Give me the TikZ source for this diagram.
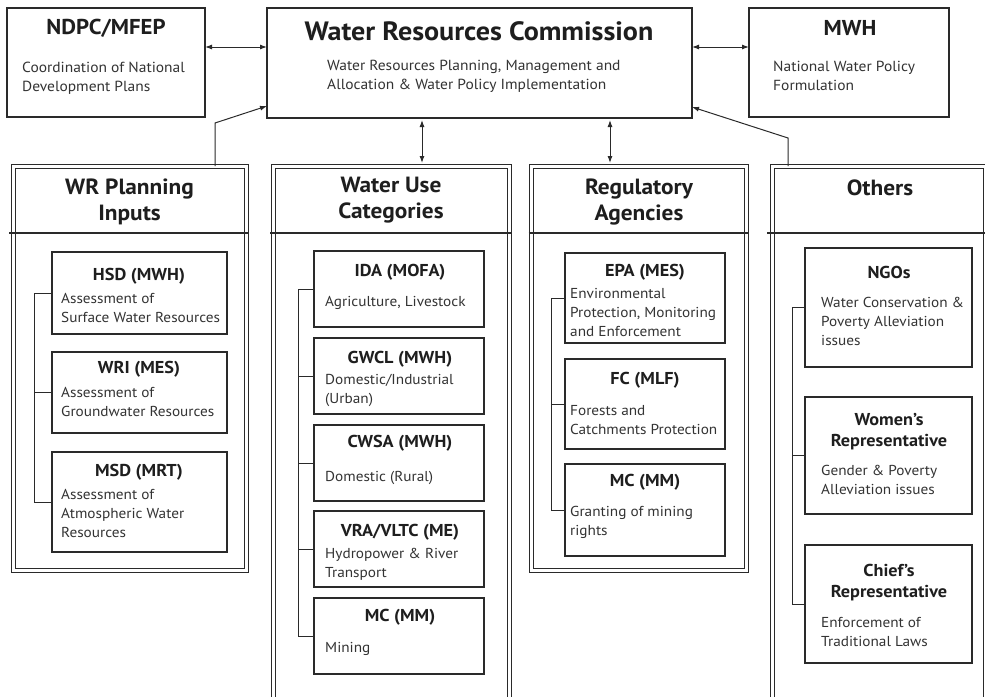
\documentclass[tikz,border=0pt]{standalone}
\usepackage{fontspec}
\setmainfont{PT Sans}[FakeStretch=1.06]
\usetikzlibrary{arrows.meta,calc}
\definecolor{linec}{HTML}{2A2A2A}
\definecolor{textc}{HTML}{1E1E1E}
\definecolor{bodyc}{HTML}{333333}
\tikzset{
  topbox/.style={draw=linec,line width=1.2pt,inner sep=0pt,outer sep=0pt,anchor=north west,fill=white},
  subbox/.style={draw=linec,line width=1.1pt,inner sep=0pt,outer sep=0pt,anchor=north west},
  colframe/.style={draw=linec,line width=1pt,double=white,double distance=3pt,inner sep=0pt,outer sep=0pt,anchor=north west},
  sepline/.style={draw=linec,line width=1.6pt},
  bigtitle/.style={font=\bfseries\fontsize{26.5}{30}\selectfont,text=textc,inner sep=0pt},
  toptitle/.style={font=\bfseries\fontsize{21.5}{25}\selectfont,text=textc,inner sep=0pt},
  topbody/.style={font=\fontsize{14.6}{19}\selectfont,text=bodyc,inner sep=0pt,anchor=west,align=left},
  colhead/.style={font=\bfseries\fontsize{22}{26}\selectfont,text=textc,inner sep=0pt,align=center},
  subtitle/.style={font=\bfseries\fontsize{17.2}{21}\selectfont,text=textc,inner sep=0pt,align=center},
  subbody/.style={font=\fontsize{14.4}{19}\selectfont,text=bodyc,inner sep=0pt,anchor=west,align=left},
  conn/.style={draw=linec,line width=1pt},
  biarrow/.style={conn,{Latex[length=7pt,width=5pt]}-{Latex[length=7pt,width=5pt]}},
  onearrow/.style={conn,-{Latex[length=7pt,width=5pt]}},
  brk/.style={draw=linec,line width=1pt}
}
\begin{document}
\begin{tikzpicture}[x=1pt,y=-1pt]
\useasboundingbox[fill=white] (0,0) rectangle (985,696);

% ---------- top boxes ----------
\node[topbox,minimum width=198pt,minimum height=109pt] (ndpc) at (7,8) {};
\node[topbox,minimum width=425pt,minimum height=110pt] (wrc) at (267,8) {};
\node[topbox,minimum width=200pt,minimum height=109pt] (mwh) at (749,8) {};

\node[toptitle] (ndpct) at (106,28) {NDPC/MFEP};
\node[topbody] (ndpcb) at (22,78) {Coordination of National\\Development Plans};

\node[bigtitle] (wrct) at (479,31) {Water Resources Commission};
\node[topbody] (wrcb) at (327,76) {Water Resources Planning, Management and\\Allocation \& Water Policy Implementation};

\node[toptitle] (mwht) at (850,28) {MWH};
\node[topbody] (mwhb) at (773,76) {National Water Policy\\Formulation};

% ---------- column frames ----------
\node[colframe,minimum width=233pt,minimum height=404pt] (c1) at (13,166) {};
\node[colframe,minimum width=236pt,minimum height=534pt] (c2) at (273,166) {};
\node[colframe,minimum width=214.5pt,minimum height=404.5pt] (c3) at (531.5,166) {};
\node[colframe,minimum width=213pt,minimum height=534pt] (c4) at (772,166) {};

\coordinate (sy) at (0,233);
\draw[sepline] ([xshift=-4pt]c1.west |- sy) -- ([xshift=2pt]c1.east |- sy);
\draw[sepline] ([xshift=-3pt]c2.west |- sy) -- ([xshift=2pt]c2.east |- sy);
\draw[sepline] ([xshift=-3pt]c3.west |- sy) -- ([xshift=2pt]c3.east |- sy);
\draw[sepline] ([xshift=-5pt]c4.west |- sy) -- ([xshift=2pt]c4.east |- sy);

\node[colhead] (h1) at (129.5,201.5) {WR Planning\\Inputs};
\node[colhead] (h2) at (391,200.5) {Water Use\\Categories};
\node[colhead] (h3) at (639,202) {Regulatory\\Agencies};
\node[colhead] (h4) at (880,188) {Others};

% ---------- column 1 ----------
\node[subbox,minimum width=175pt,minimum height=82pt] (b11) at (52,252) {};
\node[subbox,minimum width=175pt,minimum height=81pt] (b12) at (52,352) {};
\node[subbox,minimum width=175pt,minimum height=100pt] (b13) at (52,452) {};
\node[subtitle] (t11) at (139,276) {HSD (MWH)};
\node[subbody] (d11) at (61,307.5) {Assessment of\\Surface Water Resources};
\node[subtitle] (t12) at (139,369) {WRI (MES)};
\node[subbody] (d12) at (61,402) {Assessment of\\Groundwater Resources};
\node[subtitle] (t13) at (139,472) {MSD (MRT)};
\node[subbody] (d13) at (61,513) {Assessment of\\Atmospheric Water\\Resources};
\draw[brk] (b11.west) -- ++(-18,0) |- (b13.west);
\draw[brk] (b12.west) -- ++(-18,0);

% ---------- column 2 ----------
\node[subbox,minimum width=170pt,minimum height=76pt] (b21) at (314,251) {};
\node[subbox,minimum width=170pt,minimum height=76pt] (b22) at (314,338) {};
\node[subbox,minimum width=170pt,minimum height=76pt] (b23) at (314,425) {};
\node[subbox,minimum width=170pt,minimum height=76pt] (b24) at (314,511) {};
\node[subbox,minimum width=170pt,minimum height=76pt] (b25) at (314,598) {};
\node[subtitle] (t21) at (400,272) {IDA (MOFA)};
\node[subbody] (d21) at (325,303) {Agriculture, Livestock};
\node[subtitle] (t22) at (400,359) {GWCL (MWH)};
\node[subbody] (d22) at (325,390.5) {Domestic/Industrial\\(Urban)};
\node[subtitle] (t23) at (400,443) {CWSA (MWH)};
\node[subbody] (d23) at (325,478) {Domestic (Rural)};
\node[subtitle] (t24) at (400,532) {VRA/VLTC (ME)};
\node[subbody] (d24) at (325,564) {Hydropower \& River\\Transport};
\node[subtitle] (t25) at (400,617) {MC (MM)};
\node[subbody] (d25) at (325,649) {Mining};
\draw[brk] (b21.west) -- ++(-16,0) |- (b25.west);
\draw[brk] (b22.west) -- ++(-16,0);
\draw[brk] (b23.west) -- ++(-16,0);
\draw[brk] (b24.west) -- ++(-16,0);

% ---------- column 3 ----------
\node[subbox,minimum width=160pt,minimum height=90pt] (b31) at (565,253) {};
\node[subbox,minimum width=160pt,minimum height=90pt] (b32) at (565,359) {};
\node[subbox,minimum width=160pt,minimum height=92pt] (b33) at (565,464) {};
\node[subtitle] (t31) at (645,272) {EPA (MES)};
\node[subbody] (d31) at (570,312.5) {Environmental\\Protection, Monitoring\\and Enforcement};
\node[subtitle] (t32) at (645,380) {FC (MLF)};
\node[subbody] (d32) at (570,420.5) {Forests and\\Catchments Protection};
\node[subtitle] (t33) at (645,482) {MC (MM)};
\node[subbody] (d33) at (570,522) {Granting of mining\\rights};
\draw[brk] (b31.west) -- ++(-14,0) |- (b33.west);
\draw[brk] (b32.west) -- ++(-14,0);

% ---------- column 4 ----------
\node[subbox,minimum width=167pt,minimum height=119pt] (b41) at (805,248) {};
\node[subbox,minimum width=167pt,minimum height=117pt] (b42) at (805,397) {};
\node[subbox,minimum width=167pt,minimum height=118pt] (b43) at (805,545) {};
\node[subtitle] (t41) at (889,272) {NGOs};
\node[subbody] (d41) at (821,321) {Water Conservation \&\\Poverty Alleviation\\issues};
\node[subtitle] (t42) at (889,431.5) {Women's\\Representative};
\node[subbody] (d42) at (821,479.5) {Gender \& Poverty\\Alleviation issues};
\node[subtitle] (t43) at (889,583) {Chief's\\Representative};
\node[subbody] (d43) at (821,631.5) {Enforcement of\\Traditional Laws};
\draw[brk] (b41.west) -- ++(-13,0) |- (b43.west);
\draw[brk] (b42.west) -- ++(-13,0);

% ---------- connectors ----------
\coordinate (ya) at (0,47);
\draw[biarrow] (ndpc.east |- ya) -- (wrc.west |- ya);
\draw[biarrow] (wrc.east |- ya) -- (mwh.west |- ya);

\coordinate (xa) at (422,0);
\coordinate (xb) at (610,0);
\draw[biarrow,shorten <=2pt,shorten >=3pt] (wrc.south -| xa) -- (c2.north -| xa);
\draw[biarrow,shorten <=2pt,shorten >=3pt] (wrc.south -| xb) -- (c3.north -| xb);

\coordinate (xc) at (215,123);
\coordinate (yd) at (0,106);
\draw[onearrow] (c1.north -| xc) -- (xc) -- (wrc.west |- yd);

\coordinate (xe) at (788,138);
\coordinate (yg) at (0,107);
\draw[onearrow] (c4.north -| xe) -- (xe) -- (wrc.east |- yg);
\end{tikzpicture}
\end{document}
